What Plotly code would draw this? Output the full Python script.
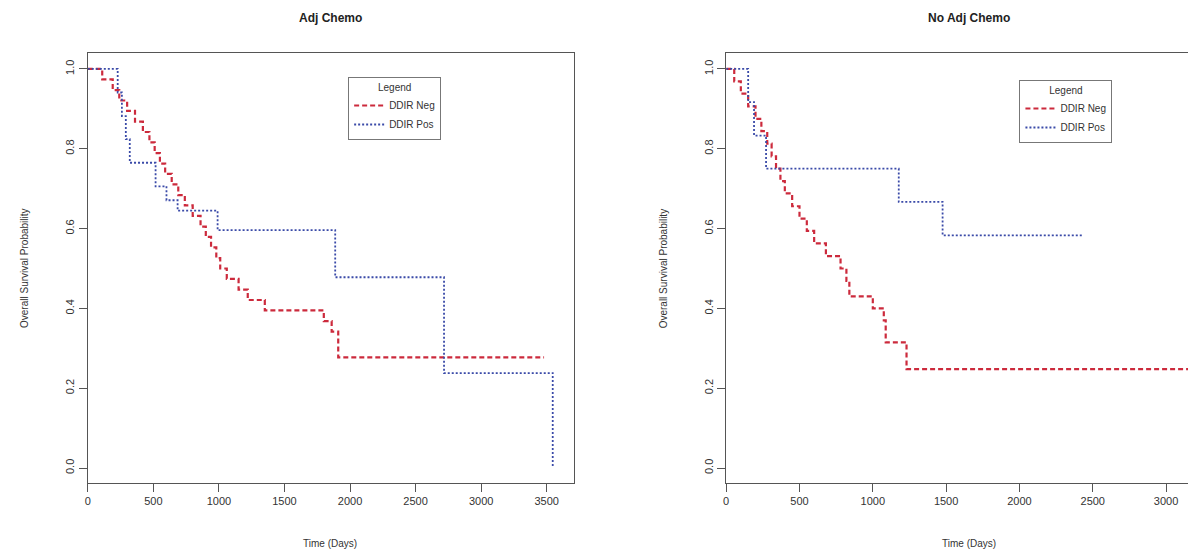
import plotly.graph_objects as go

# ---------------- data ----------------
# Adj Chemo panel
adj_neg_t = [0, 110, 190, 240, 300, 360, 420, 470, 510, 550, 590, 640, 690, 740, 800, 860, 900,
             940, 980, 1010, 1060, 1150, 1220, 1350, 1800, 1860, 1910, 3480]
adj_neg_s = [1.0, 0.974, 0.947, 0.921, 0.895, 0.868, 0.842, 0.816, 0.789, 0.763, 0.737, 0.711,
             0.684, 0.658, 0.632, 0.605, 0.579, 0.553, 0.526, 0.500, 0.474, 0.447, 0.421, 0.395,
             0.368, 0.342, 0.277, 0.277]
adj_pos_t = [0, 228, 260, 290, 320, 517, 600, 685, 990, 1887, 2717, 3546, 3546]
adj_pos_s = [1.0, 0.941, 0.882, 0.824, 0.765, 0.706, 0.671, 0.645, 0.596, 0.478, 0.238, 0.238, 0.005]

# No Adj Chemo panel
noadj_neg_t = [0, 55, 100, 150, 200, 240, 280, 310, 340, 370, 400, 450, 500, 550, 600, 680, 780,
               820, 840, 1000, 1075, 1088, 1230, 3400]
noadj_neg_s = [1.0, 0.969, 0.938, 0.906, 0.875, 0.844, 0.813, 0.781, 0.750, 0.719, 0.688, 0.656,
               0.625, 0.594, 0.563, 0.531, 0.500, 0.469, 0.430, 0.400, 0.370, 0.315, 0.248, 0.248]
noadj_pos_t = [0, 150, 190, 272, 1177, 1476, 2435]
noadj_pos_s = [1.0, 0.917, 0.833, 0.750, 0.667, 0.583, 0.583]

x_ticks = [0, 500, 1000, 1500, 2000, 2500, 3000, 3500]
y_ticks = [0.0, 0.2, 0.4, 0.6, 0.8, 1.0]
y_tick_text = ["0.0", "0.2", "0.4", "0.6", "0.8", "1.0"]
series_names = ["DDIR Neg", "DDIR Pos"]
panel_titles = ["Adj Chemo", "No Adj Chemo"]

# ---------------- styling ----------------
OFF = 8  # default page body margin
W, H = 1180, 544
RED = "#cc2a3c"
BLUE = "#3a4aa8"
AX = "#555555"
FONT = "Liberation Sans, Arial, sans-serif"

def px_x(p):
    return (p - OFF) / W

def px_y(p):
    return 1 - (p - OFF) / H

fig = go.Figure()

neg_line = dict(color=RED, dash="5px,3px", width=2.2)
pos_line = dict(color=BLUE, dash="2px,2px", width=1.8)

fig.add_trace(go.Scatter(x=adj_neg_t, y=adj_neg_s, mode="lines", line_shape="hv",
                         line=neg_line, name=series_names[0],
                         xaxis="x", yaxis="y", legend="legend"))
fig.add_trace(go.Scatter(x=adj_pos_t, y=adj_pos_s, mode="lines", line_shape="hv",
                         line=pos_line, name=series_names[1],
                         xaxis="x", yaxis="y", legend="legend"))
fig.add_trace(go.Scatter(x=noadj_neg_t, y=noadj_neg_s, mode="lines", line_shape="hv",
                         line=neg_line, name=series_names[0],
                         xaxis="x2", yaxis="y2", legend="legend2"))
fig.add_trace(go.Scatter(x=noadj_pos_t, y=noadj_pos_s, mode="lines", line_shape="hv",
                         line=pos_line, name=series_names[1],
                         xaxis="x2", yaxis="y2", legend="legend2"))

ydom = [px_y(483), px_y(53)]
yrange = [-0.0376, 1.040]

common_x = dict(showline=True, linecolor=AX, linewidth=1, ticks="outside", ticklen=8,
                tickcolor=AX, tickvals=x_ticks, showgrid=False, zeroline=False,
                tickfont=dict(family=FONT, size=11, color="#333"))
common_y = dict(showline=True, linecolor=AX, linewidth=1, ticks="outside", ticklen=8,
                tickcolor=AX, tickvals=y_ticks, ticktext=y_tick_text, tickangle=-90,
                showgrid=False, zeroline=False, range=yrange, domain=ydom,
                tickfont=dict(family=FONT, size=11, color="#333"))

legend_common = dict(xanchor="left", yanchor="top",
                     bordercolor="#777", borderwidth=1, bgcolor="white",
                     font=dict(family=FONT, size=10, color="#333"),
                     title=dict(text="Legend", side="top center", font=dict(family=FONT, size=10)),
                     itemwidth=30, entrywidth=90, tracegroupgap=0)

fig.update_layout(
    width=W, height=H,
    margin=dict(l=0, r=0, t=0, b=0),
    paper_bgcolor="white", plot_bgcolor="white",
    font=dict(family=FONT, color="#333"),
    xaxis=dict(common_x, domain=[px_x(85), px_x(572)], range=[0, 3705], mirror=True, anchor="y"),
    yaxis=dict(common_y, mirror=True, anchor="x"),
    xaxis2=dict(common_x, domain=[px_x(725), 1.0], range=[0, (1188 - 725) / 0.147],
                mirror=True, anchor="y2"),
    yaxis2=dict(common_y, mirror=False, anchor="x2"),
    legend=dict(legend_common, x=px_x(346), y=px_y(77)),
    legend2=dict(legend_common, x=px_x(1019), y=px_y(80)),
    showlegend=True,
)

annotations = [
    dict(text="<b>" + panel_titles[0] + "</b>", x=px_x(328), y=px_y(18)),
    dict(text="<b>" + panel_titles[1] + "</b>", x=px_x(968), y=px_y(18)),
]
for a in annotations:
    a.update(xref="paper", yref="paper", showarrow=False, xanchor="center", yanchor="middle",
             font=dict(family=FONT, size=12, color="#222"))

for xc in (328, 968):
    annotations.append(dict(text="Time (Days)", x=px_x(xc), y=px_y(543), xref="paper",
                            yref="paper", showarrow=False, xanchor="center", yanchor="middle",
                            font=dict(family=FONT, size=10, color="#333")))
for xc in (21, 662):
    annotations.append(dict(text="Overall Survival Probability", x=px_x(xc), y=px_y(268),
                            xref="paper", yref="paper", showarrow=False, textangle=-90,
                            xanchor="center", yanchor="middle",
                            font=dict(family=FONT, size=10, color="#333")))
fig.update_layout(annotations=annotations)

fig.write_html("out.html")
